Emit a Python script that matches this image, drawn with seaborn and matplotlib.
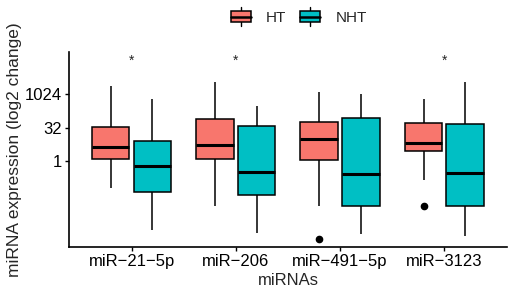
import numpy as np
import pandas as pd
import matplotlib
matplotlib.use("Agg")
import matplotlib.pyplot as plt
import seaborn as sns
from matplotlib.patches import Rectangle, Patch
from matplotlib.lines import Line2D
from matplotlib.legend_handler import HandlerBase

# miRNA expression, log2 fold change, per sample
mirnas = ["miR-21-5p", "miR-206", "miR-491-5p", "miR-3123"]
groups = ["HT", "NHT"]

mir21_ht = [-4.0, -1.2, 0.3, 1.4, 2.2, 3.6, 5.1, 7.9, 11.3]
mir21_nht = [-10.3, -7.1, -4.6, -2.3, -0.75, 1.2, 3.1, 5.8, 9.25]
mir206_ht = [-6.6, -2.4, 0.3, 1.5, 2.5, 4.4, 6.3, 9.0, 11.8]
mir206_nht = [-10.7, -7.6, -5.1, -3.0, -1.6, 1.7, 5.2, 6.9, 8.2]
mir491_ht = [-11.6, -6.6, 0.15, 1.9, 3.4, 4.6, 5.8, 8.1, 10.4]
mir491_nht = [-10.9, -8.4, -6.7, -4.3, -1.9, 2.3, 6.4, 8.2, 10.0]
mir3123_ht = [-6.6, -2.8, 1.6, 2.2, 2.8, 4.1, 5.7, 7.4, 9.25]
mir3123_nht = [-11.2, -9.0, -6.7, -4.1, -1.8, 1.9, 5.5, 8.6, 11.9]

significant = ["miR-21-5p", "miR-206", "miR-3123"]
star_y = 15.0

y_ticks_log2 = [0, 5, 10]
palette = {"HT": "#F8766D", "NHT": "#00BFC4"}

samples = {
    ("miR-21-5p", "HT"): mir21_ht, ("miR-21-5p", "NHT"): mir21_nht,
    ("miR-206", "HT"): mir206_ht, ("miR-206", "NHT"): mir206_nht,
    ("miR-491-5p", "HT"): mir491_ht, ("miR-491-5p", "NHT"): mir491_nht,
    ("miR-3123", "HT"): mir3123_ht, ("miR-3123", "NHT"): mir3123_nht,
}
rows = []
for (m, g), vals in samples.items():
    for v in vals:
        rows.append({"miRNA": m, "group": g, "log2fc": v})
df = pd.DataFrame(rows)


class BoxHandler(HandlerBase):
    # ggplot-like boxplot legend key
    def create_artists(self, legend, orig_handle, xdescent, ydescent,
                       width, height, fontsize, trans):
        x0, y0 = -xdescent, -ydescent
        fc = orig_handle.get_facecolor()
        box = Rectangle((x0, y0 + height * 0.05), width, height * 0.9,
                        facecolor=fc, edgecolor="black", lw=1.1, transform=trans)
        med = Line2D([x0, x0 + width], [y0 + height * 0.5] * 2,
                     color="black", lw=1.8, transform=trans)
        w1 = Line2D([x0 + width / 2] * 2, [y0 + height * 0.95, y0 + height * 1.3],
                    color="black", lw=1.0, transform=trans)
        w2 = Line2D([x0 + width / 2] * 2, [y0 + height * 0.05, y0 - height * 0.3],
                    color="black", lw=1.0, transform=trans)
        return [w1, w2, box, med]


sns.set_style("ticks")
plt.rcParams["font.family"] = ["Liberation Sans", "DejaVu Sans"]

fig = plt.figure(figsize=(5.1, 2.91), dpi=100)
ax = fig.add_axes([0.1353, 0.151, 0.8587, 0.67])

sns.boxplot(data=df, x="miRNA", y="log2fc", hue="group", order=mirnas,
            hue_order=groups, palette=palette, saturation=1, width=0.8,
            gap=0.1, linewidth=1.1, linecolor="black", whis=1.5,
            showcaps=False, fliersize=4.5,
            flierprops=dict(marker="o", markerfacecolor="black",
                            markeredgecolor="black"),
            medianprops=dict(linewidth=2.2, color="black"),
            legend=False, ax=ax)

for i, m in enumerate(mirnas):
    if m in significant:
        ax.text(i, star_y, "*", ha="center", va="center", fontsize=10)

ax.set_xlim(-0.6, 3.6)
ax.set_ylim(-12.8, 16.3)
ax.set_yticks(y_ticks_log2)
ax.set_yticklabels([str(2 ** t) for t in y_ticks_log2])
ax.set_xticks(range(len(mirnas)))
ax.set_xticklabels([m.replace("-", "\u2212") for m in mirnas])
ax.set_xlabel("miRNAs", fontsize=12, labelpad=3)
ax.set_ylabel("miRNA expression (log2 change)", fontsize=12.5, labelpad=2)
ax.tick_params(axis="both", labelsize=12, length=3, width=1.0,
               color="black", labelcolor="black", pad=2)
sns.despine(ax=ax)
for s in ["left", "bottom"]:
    ax.spines[s].set_linewidth(1.2)
    ax.spines[s].set_color("black")

handles = [Patch(facecolor=palette[g]) for g in groups]
fig.legend(handles, groups, loc="upper center", bbox_to_anchor=(0.586, 1.01),
           ncol=2, frameon=False, fontsize=11, handlelength=1.3,
           handleheight=0.8, handletextpad=1.0, columnspacing=0.9,
           handler_map={Patch: BoxHandler()})

fig.savefig("out.png", dpi=100)
